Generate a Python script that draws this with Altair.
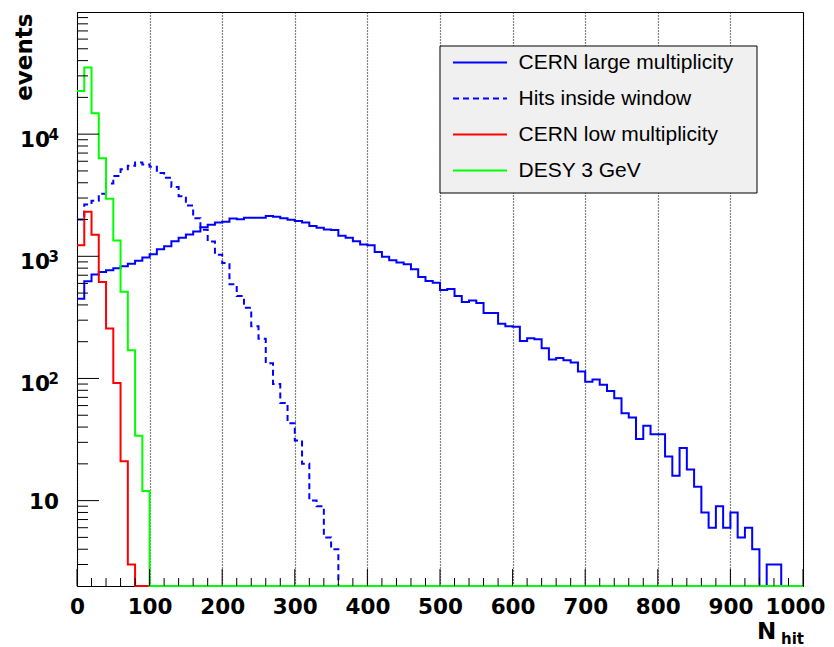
import altair as alt
import pandas as pd

# ---- data (10-unit bins from 0 to 1000) ----
bin_edges = list(range(0, 1000, 10))

series_names = ["CERN large multiplicity", "Hits inside window",
                "CERN low multiplicity", "DESY 3 GeV"]

cern_large = [450, 625, 710, 745, 770, 800, 830, 870, 920, 980,
              1040, 1140, 1210, 1330, 1420, 1510, 1600, 1730, 1810, 1890,
              1920, 2040, 2010, 2070, 2070, 2070, 2140, 2110, 2050, 1990,
              1950, 1890, 1770, 1710, 1660, 1640, 1470, 1420, 1330, 1250,
              1230, 1085, 990, 930, 890, 860, 785, 678, 628, 608,
              530, 540, 473, 423, 434, 415, 343, 343, 280, 268,
              265, 203, 213, 209, 177, 143, 147, 141, 135, 114,
              94, 98, 89, 79, 69, 52, 48, 32, 41, 35,
              35, 23, 16, 27, 18, 13, 8, 6, 9, 6,
              8, 5, 6, 4, 0, 3, 3, 0, 0, 0]

hits_window = [2000, 2650, 2850, 3250, 3950, 4550, 5150, 5500, 5850, 5650,
               5400, 4800, 4400, 3700, 3100, 2600, 2050, 1650, 1320, 1030,
               880, 590, 473, 379, 268, 211, 133, 90, 63, 43,
               31, 20, 10, 9, 5, 4]

cern_low = [1230, 2320, 1500, 615, 257, 92, 21, 3]

desy = [22600, 35100, 14800, 6350, 2960, 1350, 513, 170, 34, 12]

x_major_ticks = [0, 100, 200, 300, 400, 500, 600, 700, 800, 900, 1000]
x_minor_ticks = [20, 40, 60, 80, 120, 140, 160, 180, 220, 240, 260, 280,
                 320, 340, 360, 380, 420, 440, 460, 480, 520, 540, 560, 580,
                 620, 640, 660, 680, 720, 740, 760, 780, 820, 840, 860, 880,
                 920, 940, 960, 980]
y_major_ticks = [10, 100, 1000, 10000]
y_minor_ticks = [3, 4, 5, 6, 7, 8, 9,
                 20, 30, 40, 50, 60, 70, 80, 90,
                 200, 300, 400, 500, 600, 700, 800, 900,
                 2000, 3000, 4000, 5000, 6000, 7000, 8000, 9000,
                 20000, 30000, 40000, 50000, 60000, 70000, 80000, 90000]
y_power_ticks = [100, 1000, 10000]
y_power_exponents = ["2", "3", "4"]

Y_MIN, Y_MAX = 2, 100000
W, H = 726, 574

# ---- build the step table ----
rows = []
for name, vals in zip(series_names, [cern_large, hits_window, cern_low, desy]):
    full = list(vals) + [0] * (len(bin_edges) - len(vals))
    for x, v in zip(bin_edges, full):
        rows.append({"series": name, "x": x, "v": v})
    rows.append({"series": name, "x": 1000, "v": full[-1]})
df = pd.DataFrame(rows)

xscale = alt.Scale(domain=[0, 1000], nice=False, zero=False)
yscale = alt.Scale(type="log", domain=[Y_MIN, Y_MAX], nice=False)
color_scale = alt.Scale(domain=series_names,
                        range=["#0000ff", "#0000ff", "#ff0000", "#00ff00"])
dash_scale = alt.Scale(domain=series_names,
                       range=[[1, 0], [6, 4], [1, 0], [1, 0]])

legend = alt.Legend(
    orient="none", legendX=363, legendY=30, title=None,
    padding=10,
    labelFont="Liberation Sans", labelFontSize=21, labelColor="black",
    labelLimit=400, symbolType="M-3,0H3", symbolSize=324,
    symbolStrokeWidth=2, symbolOffset=19.5, labelOffset=28, rowPadding=14,
)

xaxis = alt.Axis(
    values=x_major_ticks, title=None, ticks=False, domain=False, format="d",
    labelFont="DejaVu Sans", labelFontWeight="bold", labelFontSize=21.5,
    labelColor="black", labelPadding=10, labelFlush=False, labelOverlap=False,
    labelOffset={"condition": {"test": "datum.value == 1000", "value": -8},
                 "value": 0},
    grid=True, gridColor="black", gridDash=[1, 2], gridWidth=1.2, gridOpacity=1,
)
yaxis = alt.Axis(
    values=y_major_ticks, ticks=False, domain=False, grid=False, labels=False,
    title="events", titleFont="DejaVu Sans", titleFontWeight="bold",
    titleFontSize=23, titleColor="black", titleAngle=270,
    titleAlign="right", titleBaseline="alphabetic", titleX=-46, titleY=1,
)

# legend box (background panel, drawn under the histogram lines)
legend_box = alt.Chart(pd.DataFrame({"a": [0]})).mark_rect(
    fill="#f0f0f0", stroke="black", strokeWidth=1
).encode(x=alt.value(363), x2=alt.value(680), y=alt.value(34), y2=alt.value(181))


def hist_layer(name):
    return alt.Chart(df).transform_filter(
        alt.datum.series == name
    ).transform_calculate(
        y=f"max(datum.v, {Y_MIN})"
    ).mark_line(interpolate="step-after", strokeWidth=2).encode(
        x=alt.X("x:Q", scale=xscale, axis=xaxis),
        y=alt.Y("y:Q", scale=yscale, axis=yaxis),
        color=alt.Color("series:N", scale=color_scale, legend=legend),
        strokeDash=alt.StrokeDash("series:N", scale=dash_scale, legend=legend),
    )


def xtick_layer(vals, length):
    return alt.Chart(pd.DataFrame({"x": vals})).mark_rule(
        color="black", strokeWidth=1
    ).encode(
        x=alt.X("x:Q", scale=xscale, axis=xaxis),
        y=alt.value(H), y2=alt.value(H - length),
    )


def ytick_layer(vals, length):
    return alt.Chart(pd.DataFrame({"y": vals})).mark_rule(
        color="black", strokeWidth=1
    ).encode(
        y=alt.Y("y:Q", scale=yscale, axis=yaxis),
        x=alt.value(0), x2=alt.value(length),
    )


def ylabel_layer(vals, texts, xpos, dy, size):
    return alt.Chart(pd.DataFrame({"y": vals, "t": texts})).mark_text(
        font="DejaVu Sans", fontWeight="bold", fontSize=size, color="black",
        align="right", baseline="middle", dy=dy,
    ).encode(
        y=alt.Y("y:Q", scale=yscale, axis=yaxis),
        x=alt.value(xpos), text="t:N",
    )


n_text = alt.Chart(pd.DataFrame({"t": ["N"]})).mark_text(
    font="DejaVu Sans", fontWeight="bold", fontSize=23, color="black",
    align="left", baseline="alphabetic",
).encode(text="t:N", x=alt.value(680), y=alt.value(627))

hit_text = alt.Chart(pd.DataFrame({"t": ["hit"]})).mark_text(
    font="DejaVu Sans", fontWeight="bold", fontSize=15, color="black",
    align="left", baseline="alphabetic",
).encode(text="t:N", x=alt.value(704), y=alt.value(632))

chart = alt.layer(
    legend_box,
    hist_layer(series_names[0]),
    hist_layer(series_names[1]),
    hist_layer(series_names[2]),
    hist_layer(series_names[3]),
    xtick_layer(x_major_ticks, 17),
    xtick_layer(x_minor_ticks, 8),
    ytick_layer(y_major_ticks, 22),
    ytick_layer(y_minor_ticks, 11),
    ylabel_layer([10], ["10"], -18, 2.5, 21.5),
    ylabel_layer(y_power_ticks, ["10"] * len(y_power_ticks), -27, 7, 21.5),
    ylabel_layer(y_power_ticks, y_power_exponents, -18, 1, 15),
    n_text,
    hit_text,
).properties(
    width=W, height=H,
    padding={"left": 69, "top": 4, "right": 23, "bottom": 61},
    autosize=alt.AutoSizeParams(type="none"),
    background="white",
).configure_view(
    stroke="black", strokeWidth=1
)

chart.save("out.html", embed_options={"renderer": "svg", "actions": False})
